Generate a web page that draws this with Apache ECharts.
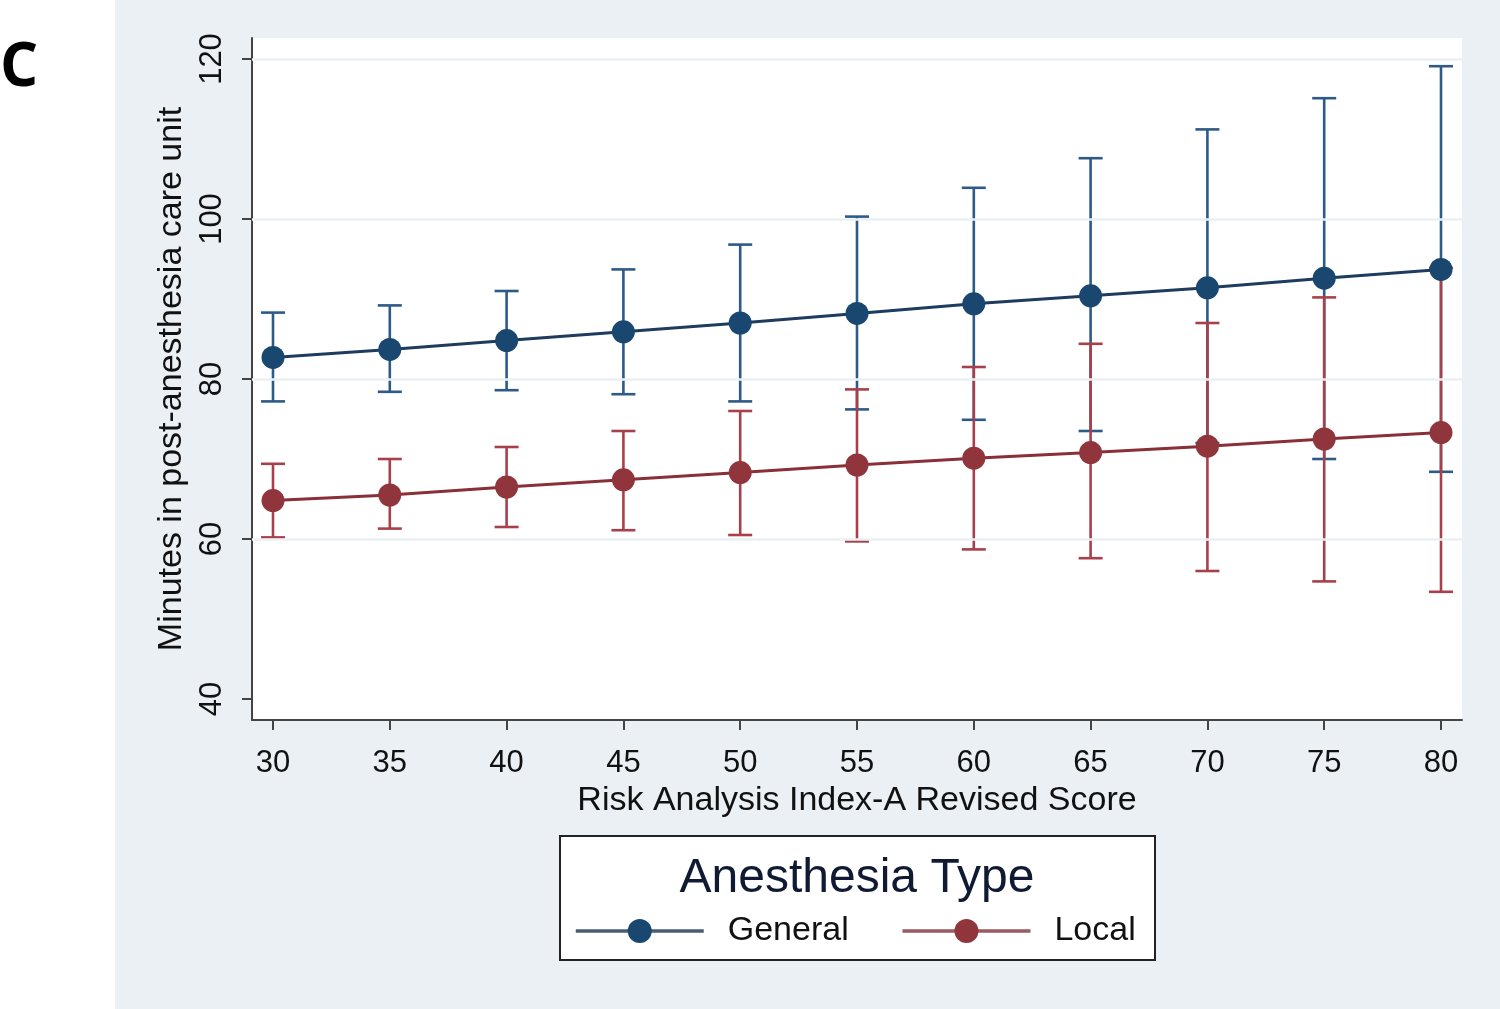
<!DOCTYPE html>
<html>
<head>
<meta charset="utf-8">
<script src="https://cdn.jsdelivr.net/npm/echarts@6/dist/echarts.min.js"></script>
<style>
html,body{margin:0;padding:0;background:#fff;}
#chart{width:1500px;height:1009px;}
</style>
</head>
<body>
<div id="chart"></div>
<script>
// ---- data ----
const scores = [30, 35, 40, 45, 50, 55, 60, 65, 70, 75, 80];
const generalMean = [82.7, 83.7, 84.8, 85.9, 87.0, 88.2, 89.4, 90.4, 91.4, 92.6, 93.7];
const generalLow  = [77.2, 78.4, 78.6, 78.1, 77.2, 76.2, 74.9, 73.5, 72.0, 70.0, 68.4];
const generalHigh = [88.3, 89.2, 91.0, 93.7, 96.8, 100.3, 103.9, 107.6, 111.2, 115.1, 119.1];
const localMean = [64.8, 65.5, 66.5, 67.4, 68.3, 69.25, 70.1, 70.8, 71.6, 72.5, 73.3];
const localLow  = [60.2, 61.3, 61.5, 61.1, 60.5, 59.7, 58.7, 57.6, 56.0, 54.7, 53.4];
const localHigh = [69.4, 70.0, 71.5, 73.5, 76.0, 78.7, 81.5, 84.4, 87.0, 90.2, 93.9];
const xTicks = [30, 35, 40, 45, 50, 55, 60, 65, 70, 75, 80];
const yTicks = [40, 60, 80, 100, 120];
const yGridValues = [60, 80, 100, 120];

const BLUE = '#1a476f';
const RED = '#90353b';
const BLUE_CI = '#2d5a86';
const RED_CI = '#a8404b';
const FONT = '"Liberation Sans", Arial, sans-serif';

const chart = echarts.init(document.getElementById('chart'), null, {renderer: 'canvas'});

function ciSeries(name, color, lo, hi, z) {
  return {
    name: name + ' CI',
    type: 'custom',
    z: z,
    silent: true,
    data: scores.map((x, i) => [x, lo[i], hi[i]]),
    encode: {x: 0, y: [1, 2]},
    renderItem: function (params, api) {
      const x = api.value(0);
      const pLo = api.coord([x, api.value(1)]);
      const pHi = api.coord([x, api.value(2)]);
      const hw = 12;
      const style = {stroke: color, lineWidth: 2.6};
      return {
        type: 'group',
        children: [
          {type: 'line', shape: {x1: pLo[0], y1: pLo[1], x2: pHi[0], y2: pHi[1]}, style: style},
          {type: 'line', shape: {x1: pLo[0] - hw, y1: pLo[1], x2: pLo[0] + hw, y2: pLo[1]}, style: style},
          {type: 'line', shape: {x1: pHi[0] - hw, y1: pHi[1], x2: pHi[0] + hw, y2: pHi[1]}, style: style}
        ]
      };
    }
  };
}

const option = {
  backgroundColor: '#ffffff',
  animation: false,
  graphic: [
    {type: 'rect', z: -10, shape: {x: 115, y: 0, width: 1385, height: 1009}, style: {fill: '#eaf0f3'}},
    {type: 'text', left: 0, top: 39, style: {text: 'C', font: 'bold 60px "Open Sans", "Liberation Sans", Arial, sans-serif', fill: '#000'}},
    {type: 'rect', z: 1, shape: {x: 560, y: 836, width: 595, height: 124}, style: {fill: '#ffffff', stroke: '#222', lineWidth: 2}},
    {type: 'text', z: 2, x: 857, y: 879, style: {text: 'Anesthesia Type', font: '48px ' + FONT, fill: '#111a33', align: 'center', verticalAlign: 'middle'}}
  ],
  grid: {
    left: 252, right: 38, top: 38, bottom: 289,
    show: true, backgroundColor: '#ffffff', borderWidth: 0
  },
  legend: {
    left: 574, top: 914, padding: 0,
    itemWidth: 128, itemHeight: 30, itemGap: 52,
    data: [
      {name: 'General', lineStyle: {color: '#4a5d72', width: 3.5}},
      {name: 'Local', lineStyle: {color: '#9a5a62', width: 3.5}}
    ],
    textStyle: {fontSize: 34, fontFamily: FONT, color: '#111', padding: [0, 0, 0, 19]}
  },
  xAxis: {
    type: 'value',
    min: 29.101, max: 80.899,
    name: 'Risk Analysis Index-A Revised Score',
    nameLocation: 'middle', nameGap: 61,
    nameTextStyle: {fontSize: 34, fontFamily: FONT, color: '#111', verticalAlign: 'top'},
    axisLine: {show: true, lineStyle: {color: '#444', width: 2}},
    axisTick: {show: true, length: 10, lineStyle: {color: '#444', width: 2}, customValues: xTicks},
    axisLabel: {fontSize: 31, fontFamily: FONT, color: '#111', margin: 28, customValues: xTicks},
    splitLine: {show: false}
  },
  yAxis: {
    type: 'value',
    min: 37.375, max: 122.625,
    name: 'Minutes in post-anesthesia care unit',
    nameLocation: 'middle', nameGap: 59, nameRotate: 90,
    nameTextStyle: {fontSize: 34, fontFamily: FONT, color: '#111'},
    axisLine: {show: true, lineStyle: {color: '#444', width: 2}},
    axisTick: {show: true, length: 10, lineStyle: {color: '#444', width: 2}, customValues: yTicks},
    axisLabel: {fontSize: 31, fontFamily: FONT, color: '#111', margin: 24, rotate: 90, customValues: yTicks},
    splitLine: {show: false}
  },
  series: [
    {
      name: 'gridlines', type: 'line', data: [], silent: true, z: 1,
      markLine: {
        silent: true, symbol: 'none', label: {show: false},
        lineStyle: {color: '#eaf0f3', width: 2.5, type: 'solid'},
        data: yGridValues.map(v => ({yAxis: v}))
      }
    },
    ciSeries('General', BLUE_CI, generalLow, generalHigh, 3),
    ciSeries('Local', RED_CI, localLow, localHigh, 4),
    {
      name: 'General', type: 'line', z: 5,
      data: scores.map((x, i) => [x, generalMean[i]]),
      symbol: 'circle', symbolSize: 23, showSymbol: true,
      lineStyle: {color: '#1d3c5e', width: 3},
      itemStyle: {color: BLUE}
    },
    {
      name: 'Local', type: 'line', z: 6,
      data: scores.map((x, i) => [x, localMean[i]]),
      symbol: 'circle', symbolSize: 23, showSymbol: true,
      lineStyle: {color: '#8a2f38', width: 3},
      itemStyle: {color: RED}
    }
  ]
};
chart.setOption(option);
</script>
</body>
</html>
